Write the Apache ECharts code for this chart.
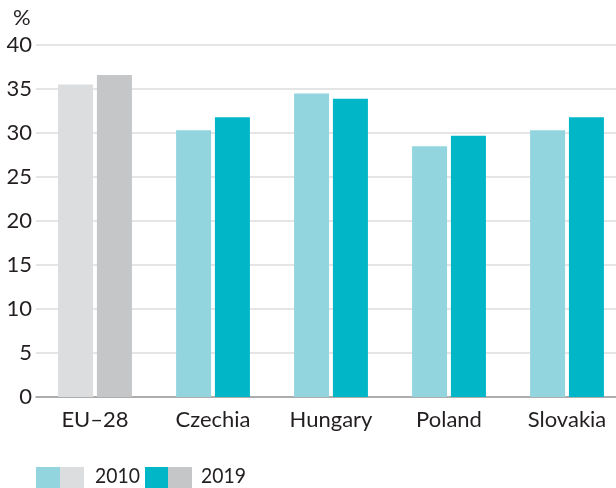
<!DOCTYPE html>
<html><head><meta charset="utf-8">
<script src="https://cdn.jsdelivr.net/npm/echarts@6/dist/echarts.min.js"></script>
<style>html,body{margin:0;padding:0;background:#fff}#c{width:616px;height:488px}</style>
</head><body><div id="c"></div>
<script>
const categories = ['EU\u201328', 'Czechia', 'Hungary', 'Poland', 'Slovakia'];
const values2010 = [35.5, 30.3, 34.5, 28.5, 30.3];
const values2019 = [36.6, 31.8, 33.9, 29.7, 31.8];
const yTicks = [0, 5, 10, 15, 20, 25, 30, 35, 40];

const C2010 = '#93d5df', C2019 = '#00b6c7', G2010 = '#dcdddf', G2019 = '#c5c6c8';
const FONT = 'Lato, "Noto Sans", sans-serif';
const TXT = '#231f20';

function mk(vals, color, eu) {
  return vals.map((v, i) => ({ value: v, itemStyle: { color: i === 0 ? eu : color } }));
}

const chart = echarts.init(document.getElementById('c'), null, { renderer: 'canvas' });
chart.setOption({
  animation: false,
  textStyle: { fontFamily: FONT },
  grid: { left: 36, width: 590, top: 45, height: 352, containLabel: false, outerBoundsMode: 'none' },
  xAxis: {
    type: 'category', data: categories,
    axisLine: { show: true, lineStyle: { color: '#9a9a9a', width: 1.5 } },
    axisTick: { show: false },
    axisLabel: { fontSize: 22, color: TXT, margin: 12, interval: 0, fontFamily: FONT, hideOverlap: false }
  },
  yAxis: {
    type: 'value', min: yTicks[0], max: yTicks[yTicks.length - 1], interval: 5,
    axisLine: { show: false }, axisTick: { show: false },
    axisLabel: { fontSize: 22, color: TXT, margin: 4, fontFamily: FONT },
    splitLine: { lineStyle: { color: '#dcdcdc', width: 1.5 } }
  },
  series: [
    { name: '2010', type: 'bar', data: mk(values2010, C2010, G2010), barWidth: 35, barGap: '11%' },
    { name: '2019', type: 'bar', data: mk(values2019, C2019, G2019), barWidth: 35, barGap: '11%' }
  ],
  graphic: [
    { type: 'text', left: 13, top: 7, style: { text: '%', fontSize: 22, fill: TXT, fontFamily: FONT } },
    { type: 'rect', left: 36, top: 467, shape: { width: 24, height: 21 }, style: { fill: C2010 } },
    { type: 'rect', left: 60, top: 467, shape: { width: 24, height: 21 }, style: { fill: G2010 } },
    { type: 'text', x: 95, y: 465, scaleX: 0.88, style: { text: '2010', fontSize: 22, fill: TXT, fontFamily: FONT } },
    { type: 'rect', left: 145, top: 467, shape: { width: 23, height: 21 }, style: { fill: C2019 } },
    { type: 'rect', left: 168, top: 467, shape: { width: 24, height: 21 }, style: { fill: G2019 } },
    { type: 'text', x: 201, y: 465, scaleX: 0.88, style: { text: '2019', fontSize: 22, fill: TXT, fontFamily: FONT } }
  ]
});
</script></body></html>
